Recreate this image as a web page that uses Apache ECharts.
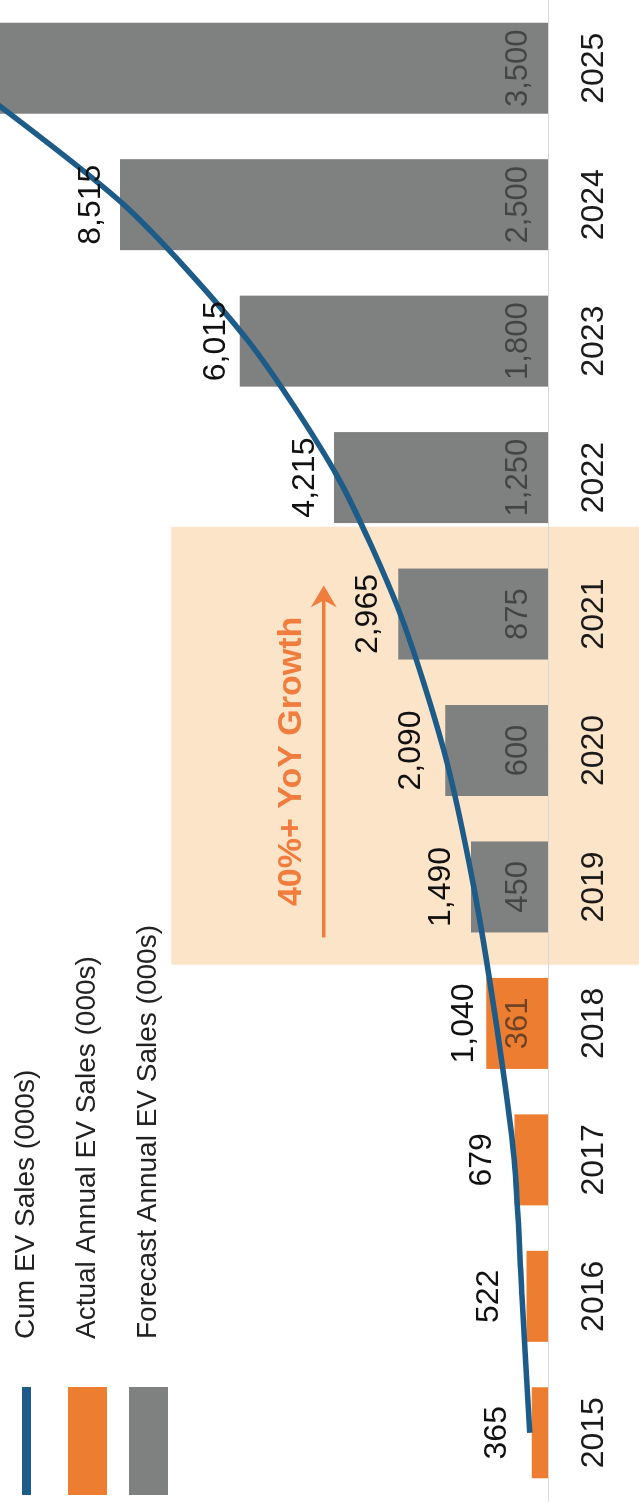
<!DOCTYPE html>
<html>
<head>
<meta charset="utf-8">
<script src="https://cdn.jsdelivr.net/npm/echarts@6/dist/echarts.min.js"></script>
<style>
  html, body { margin: 0; padding: 0; width: 639px; height: 1503px; overflow: hidden; background: #ffffff; }
  /* the chart is laid out landscape and turned a quarter turn so the years run bottom to top */
  #chart { position: absolute; left: 0; top: 0; width: 1503px; height: 639px;
           transform-origin: 0 0; transform: translate(0, 1503px) rotate(-90deg); }
</style>
</head>
<body>
<div id="chart"></div>
<script>
// Years on the category axis
const years = ['2015', '2016', '2017', '2018', '2019', '2020', '2021', '2022', '2023', '2024', '2025'];
// Annual EV sales, thousands (actual through 2018, forecast afterwards)
const actualSales = [95, 125, 195, 361, null, null, null, null, null, null, null];
const forecastSales = [null, null, null, null, 450, 600, 875, 1250, 1800, 2500, 3500];
// Cumulative EV sales, thousands
const cumulativeSales = [365, 522, 679, 1040, 1490, 2090, 2965, 4215, 6015, 8515, 12015];
// Series names shown in the legend
const seriesNames = ['Cum EV Sales (000s)', 'Actual Annual EV Sales (000s)', 'Forecast Annual EV Sales (000s)'];
const growthNote = '40%+ YoY Growth';
// Annual values large enough to carry a label inside the bar
const innerLabelMin = 300;

const FONT = '"Liberation Sans", Arial, Helvetica, sans-serif';
const ORANGE = '#ED7D31';
const GREY = '#7f8080';
const BLUE = '#1d5b89';
const PEACH = '#fce4c9';
const NOTE = '#f07d3e';

const fmt = v => Number(v).toLocaleString('en-US');

const innerLabel = {
  position: 'insideBottom', distance: 14,
  fontFamily: FONT, fontSize: 31, color: 'rgba(30,30,30,0.62)',
  formatter: p => fmt(p.value)
};

const chart = echarts.init(document.getElementById('chart'), null, { renderer: 'canvas' });

chart.setOption({
  animation: false,
  backgroundColor: '#ffffff',
  textStyle: { fontFamily: FONT },
  grid: { left: 2, right: 0, top: 0, bottom: 91, containLabel: false },
  legend: {
    orient: 'vertical', left: 8, top: 7, padding: 0,
    itemWidth: 108, itemHeight: 39, itemGap: 22,
    selectedMode: false,
    textStyle: { fontFamily: FONT, fontSize: 28, color: '#222222', padding: [0, 0, 0, 43] },
    data: [
      // thin band for the line, with corner points that keep the full icon box
      { name: seriesNames[0], icon: 'path://M0,15H108V24H0Z M0,0H0.01V0.01H0Z M107.99,38.99H108V39H107.99Z' },
      { name: seriesNames[1], icon: 'rect' },
      { name: seriesNames[2], icon: 'rect' }
    ]
  },
  xAxis: {
    type: 'category', data: years,
    axisTick: { show: false },
    axisLine: { lineStyle: { color: '#d9d9d9', width: 1 } },
    axisLabel: { fontFamily: FONT, fontSize: 32, color: '#1a1a1a', margin: 30 }
  },
  yAxis: [
    { type: 'value', min: 0, max: 3200, show: false, splitLine: { show: false } },
    { type: 'value', min: 0, max: 11000, show: false, splitLine: { show: false } }
  ],
  series: [
    {
      name: seriesNames[1], type: 'bar', stack: 'annual', barWidth: 91,
      itemStyle: { color: ORANGE },
      data: actualSales.map(v => v == null ? null :
        { value: v, label: Object.assign({ show: v >= innerLabelMin }, innerLabel) }),
      z: 2
    },
    {
      name: seriesNames[2], type: 'bar', stack: 'annual', barWidth: 91,
      itemStyle: { color: GREY },
      data: forecastSales,
      label: Object.assign({ show: true }, innerLabel),
      z: 2
    },
    {
      name: seriesNames[0], type: 'line', yAxisIndex: 1,
      data: cumulativeSales,
      smooth: 0.25,
      symbol: 'circle', symbolSize: 1,
      color: BLUE,
      itemStyle: { color: BLUE },
      lineStyle: { color: BLUE, width: 5.5 },
      label: {
        show: true, position: 'top', distance: 16,
        fontFamily: FONT, fontSize: 32, color: '#111111',
        formatter: p => fmt(p.value)
      },
      z: 5
    }
  ]
});

// Shaded band with the growth note, placed from the axis scales
const cx = i => chart.convertToPixel({ xAxisIndex: 0 }, years[i]);
const band = cx(1) - cx(0);
const bandTop = chart.convertToPixel({ yAxisIndex: 0 }, 2200);
const left = cx(4) - 0.57 * band;
const right = cx(6) + 0.64 * band;
const arrowY = chart.convertToPixel({ yAxisIndex: 0 }, 1310);
const textY = chart.convertToPixel({ yAxisIndex: 0 }, 1500);
const arrowStart = cx(4) - 0.37 * band;
const arrowEnd = cx(6) + 0.21 * band;

chart.setOption({
  graphic: [
    { type: 'rect', z: -10, silent: true,
      shape: { x: left, y: bandTop, width: right - left, height: 639 - bandTop },
      style: { fill: PEACH } },
    { type: 'line', z: 50, silent: true,
      shape: { x1: arrowStart, y1: arrowY, x2: arrowEnd - 14, y2: arrowY },
      style: { stroke: NOTE, lineWidth: 3.5 } },
    { type: 'polygon', z: 50, silent: true,
      shape: { points: [[arrowEnd, arrowY], [arrowEnd - 22, arrowY - 13], [arrowEnd - 15, arrowY], [arrowEnd - 22, arrowY + 13]] },
      style: { fill: NOTE } },
    { type: 'text', z: 50, silent: true,
      x: (arrowStart + arrowEnd) / 2, y: textY,
      style: { text: growthNote, fill: NOTE, font: 'bold 34px ' + FONT, align: 'center', verticalAlign: 'middle' } }
  ]
});
</script>
</body>
</html>
